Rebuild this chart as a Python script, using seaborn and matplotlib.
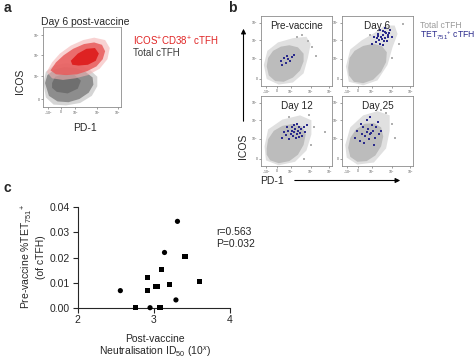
import pandas as pd
import matplotlib.pyplot as plt
import seaborn as sns

sns.set_style("ticks")
plt.rcParams['font.family'] = ['Liberation Sans', 'DejaVu Sans']
plt.rcParams['mathtext.fontset'] = 'custom'
plt.rcParams['mathtext.rm'] = 'Liberation Sans'
plt.rcParams['mathtext.it'] = 'Liberation Sans:italic'

# ---- panel c data ----
neut_circle = [2.56, 2.95, 3.14, 3.31, 3.29]
tet_circle = [0.0068, 0.0, 0.022, 0.0344, 0.0031]
neut_square = [2.76, 2.92, 2.92, 3.02, 3.05, 3.08, 3.10, 3.21, 3.41, 3.60]
tet_square = [0.0, 0.0119, 0.0070, 0.0086, 0.0086, 0.0, 0.0151, 0.0092, 0.0203, 0.0104]

# ---- flow plot ticks (axis units 0-100) ----
flow_xticks = [7, 23, 42, 70, 96]
flow_xlabels = ['-10$^3$', '0', '10$^3$', '10$^4$', '10$^5$']
flow_yticks = [10, 39, 65, 90]
flow_ylabels = ['0', '10$^3$', '10$^4$', '10$^5$']

# ---- panel a: cloud outlines (PD-1, ICOS in axis units) ----
a_gray_halo = [(1, 30), (4, 44), (14, 52), (30, 55), (46, 53), (60, 47), (70, 38), (70, 26),
               (63, 14), (48, 5), (30, 2), (14, 3), (4, 12)]
a_gray_main = [(3, 30), (6, 40), (15, 47), (28, 50), (42, 49), (55, 44), (64, 37), (65, 28),
               (59, 18), (47, 10), (33, 6), (19, 7), (8, 14)]
a_gray_core = [(12, 30), (16, 38), (28, 42), (41, 40), (49, 33), (45, 23), (32, 17), (18, 19), (12, 24)]
a_red_halo = [(5, 44), (12, 56), (22, 67), (36, 77), (52, 84), (66, 87), (80, 84), (86, 74),
              (83, 60), (73, 48), (58, 40), (42, 36), (26, 34), (12, 36)]
a_red_main = [(10, 46), (17, 56), (27, 65), (39, 73), (53, 79), (66, 81), (76, 78), (80, 70),
              (77, 60), (69, 51), (57, 45), (44, 41), (30, 40), (17, 41)]
a_red_core = [(36, 58), (45, 67), (56, 73), (67, 74), (72, 67), (68, 58), (58, 53), (46, 52), (38, 53)]

# ---- panel b: total cTFH clouds ----
b_titles = ['Pre-vaccine', 'Day 6', 'Day 12', 'Day 25']
b_halo = [
    [(4, 30), (9, 50), (24, 62), (45, 68), (64, 70), (70, 60), (66, 40), (60, 18), (45, 5), (25, 2), (8, 10)],
    [(6, 28), (12, 52), (28, 65), (45, 75), (60, 86), (74, 86), (78, 74), (71, 55), (64, 30), (50, 8), (30, 1), (10, 6)],
    [(5, 28), (10, 52), (30, 66), (55, 72), (71, 65), (71, 45), (64, 22), (48, 6), (25, 1), (7, 8)],
    [(5, 30), (12, 55), (30, 72), (50, 78), (67, 72), (67, 50), (62, 25), (45, 5), (22, 2), (7, 12)],
]
b_main = [
    [(8, 28), (10, 40), (17, 50), (28, 56), (40, 58), (52, 55), (60, 46), (60, 35), (55, 22), (45, 12), (32, 6), (20, 7), (11, 15)],
    [(9, 26), (11, 40), (18, 50), (30, 57), (44, 60), (56, 57), (63, 48), (62, 34), (55, 20), (44, 9), (30, 4), (17, 6), (10, 15)],
    [(8, 25), (10, 38), (18, 50), (30, 57), (45, 60), (58, 56), (63, 45), (60, 30), (52, 16), (40, 7), (25, 4), (13, 8), (8, 16)],
    [(9, 26), (12, 40), (20, 52), (32, 60), (45, 61), (55, 55), (58, 42), (55, 28), (47, 15), (35, 7), (22, 6), (12, 13)],
]
b_outliers = [
    [(66, 64), (72, 55), (58, 72), (78, 42), (50, 70)],
    [(80, 60), (70, 40), (85, 88), (40, 72)],
    [(75, 55), (70, 30), (40, 70), (90, 48), (68, 72), (60, 10)],
    [(70, 60), (62, 75), (75, 40), (55, 80)],
]
# ---- panel b: TET751+ cTFH events ----
b_tet = [
    [(28, 35), (32, 40), (35, 33), (38, 38), (41, 36), (44, 41), (30, 30), (47, 44), (36, 42)],
    [(48, 62), (52, 66), (55, 70), (58, 73), (60, 68), (62, 75), (65, 72), (57, 78), (50, 74), (54, 60),
     (63, 64), (67, 80), (45, 70), (59, 64), (61, 82), (53, 79), (56, 67), (64, 69), (49, 68), (66, 76),
     (58, 58), (42, 60), (70, 70), (51, 71), (60, 77)],
    [(30, 40), (35, 44), (38, 50), (42, 46), (45, 42), (47, 48), (50, 45), (52, 50), (48, 53), (44, 55),
     (55, 47), (57, 52), (53, 41), (40, 38), (46, 58), (60, 55), (62, 48), (50, 60), (36, 55), (58, 43),
     (43, 50), (49, 40), (54, 56), (65, 58), (33, 48)],
    [(18, 40), (22, 50), (25, 35), (28, 45), (30, 55), (33, 42), (35, 48), (37, 52), (38, 38), (40, 45),
     (42, 58), (44, 50), (46, 40), (48, 55), (50, 62), (35, 65), (27, 60), (52, 45), (55, 50), (39, 70),
     (31, 33), (45, 30), (41, 47)],
]

W, H = 474, 359
fig = plt.figure(figsize=(4.74, 3.59), dpi=100)


def px_axes(l, t, r, b):
    return fig.add_axes([l / W, 1 - b / H, (r - l) / W, (b - t) / H])


def style_flow(ax):
    ax.set_xlim(0, 100)
    ax.set_ylim(0, 100)
    ax.set_xticks(flow_xticks)
    ax.set_xticklabels(flow_xlabels)
    ax.set_yticks(flow_yticks)
    ax.set_yticklabels(flow_ylabels)
    ax.tick_params(length=1.5, width=0.4, pad=0.5, labelsize=2.5, colors='#555555')
    for s in ax.spines.values():
        s.set_color('#8c8c8c')
        s.set_linewidth(0.6)


def fill_poly(ax, pts, color, alpha=1.0):
    xs, ys = zip(*pts)
    ax.fill(xs, ys, facecolor=color, edgecolor='none', alpha=alpha, linewidth=0)


# panel a
ax_a = px_axes(42.7, 27.3, 120.7, 107)
style_flow(ax_a)
fill_poly(ax_a, a_gray_halo, '#c4c4c4', 0.7)
fill_poly(ax_a, a_gray_main, '#858585', 0.9)
fill_poly(ax_a, a_gray_core, '#686868', 0.8)
fill_poly(ax_a, a_red_halo, '#f4b4b4', 0.6)
fill_poly(ax_a, a_red_main, '#e85a5a', 0.85)
fill_poly(ax_a, a_red_core, '#dd1a1a', 0.9)

# panel b
b_boxes = [(261, 15.7, 332, 86), (341.7, 15.7, 413.3, 86),
           (261, 95.7, 332, 166), (341.7, 95.7, 413.3, 166)]
for i, box in enumerate(b_boxes):
    ax = px_axes(*box)
    style_flow(ax)
    fill_poly(ax, b_halo[i], '#e0e0e0', 1.0)
    fill_poly(ax, b_main[i], '#bcbcbc', 1.0)
    od = pd.DataFrame(b_outliers[i], columns=['pd1', 'icos'])
    sns.scatterplot(data=od, x='pd1', y='icos', ax=ax, color='#b0b0b0', s=1.5,
                    linewidth=0, marker='s', legend=False)
    td = pd.DataFrame(b_tet[i], columns=['pd1', 'icos'])
    sns.scatterplot(data=td, x='pd1', y='icos', ax=ax, color='#2a2a8c', s=2.5,
                    linewidth=0, marker='s', legend=False)
    ax.set_xlabel('')
    ax.set_ylabel('')
    ax.text(0.5, 0.86, b_titles[i], transform=ax.transAxes, ha='center', va='center', fontsize=7.2)

# panel c
df_c = pd.DataFrame({
    'neut': neut_circle + neut_square,
    'tet': tet_circle + tet_square,
    'group': ['circle'] * len(neut_circle) + ['square'] * len(neut_square),
})
ax_c = px_axes(77.7, 207.3, 230, 307.7)
sns.scatterplot(data=df_c, x='neut', y='tet', style='group', markers={'circle': 'o', 'square': 's'},
                color='black', s=14, linewidth=0, legend=False, ax=ax_c, clip_on=False, zorder=3)
ax_c.set_xlim(2, 4)
ax_c.set_ylim(0, 0.04)
ax_c.set_xticks([2, 3, 4])
ax_c.set_yticks([0, 0.01, 0.02, 0.03, 0.04])
ax_c.set_yticklabels(['0.00', '0.01', '0.02', '0.03', '0.04'])
ax_c.set_xlabel('')
ax_c.set_ylabel('')
ax_c.tick_params(length=3.5, width=0.8, labelsize=7.5, pad=2)
sns.despine(ax=ax_c)
for s in ['left', 'bottom']:
    ax_c.spines[s].set_linewidth(0.8)

# overlay for labels and arrows (pixel coordinates)
ov = fig.add_axes([0, 0, 1, 1])
ov.set_xlim(0, W)
ov.set_ylim(H, 0)
ov.axis('off')
ov.patch.set_alpha(0)

ov.text(4, 8, 'a', fontsize=10, fontweight='bold', va='center', ha='left')
ov.text(228, 8, 'b', fontsize=10, fontweight='bold', va='center', ha='left')
ov.text(4, 188, 'c', fontsize=10, fontweight='bold', va='center', ha='left')

ov.text(85, 22, 'Day 6 post-vaccine', fontsize=7.5, ha='center', va='center')
ov.text(133, 41, 'ICOS$^{+}$CD38$^{+}$ cTFH', fontsize=7, color='#e02424', ha='left', va='center')
ov.text(133, 52.5, 'Total cTFH', fontsize=7, color='#3c3c3c', ha='left', va='center')
ov.text(20.5, 81, 'ICOS', fontsize=7.5, rotation=90, ha='center', va='center')
ov.text(85, 128, 'PD-1', fontsize=7.5, ha='center', va='center')

ov.text(420, 25, 'Total cTFH', fontsize=6.2, color='#9a9a9a', ha='left', va='center')
ov.text(420, 35, 'TET$_{751}$$^{+}$ cTFH', fontsize=6.2, color='#2a2a8c', ha='left', va='center')
ov.annotate('', xy=(243.5, 26), xytext=(243.5, 124),
            arrowprops=dict(arrowstyle='-|>', color='black', lw=0.8, mutation_scale=7))
ov.text(243.5, 146, 'ICOS', fontsize=7.5, rotation=90, ha='center', va='center')
ov.annotate('', xy=(403, 180.5), xytext=(292, 180.5),
            arrowprops=dict(arrowstyle='-|>', color='black', lw=0.8, mutation_scale=7))
ov.text(272, 180.5, 'PD-1', fontsize=7.5, ha='center', va='center')

ov.text(33, 257, 'Pre-vaccine %TET$_{751}$$^{+}$\n(of cTFH)', fontsize=7.5, rotation=90,
        ha='center', va='center', multialignment='center', linespacing=1.1)
ov.text(155, 346.5, 'Post-vaccine\nNeutralisation ID$_{50}$ (10$^{x}$)', fontsize=7.5,
        ha='center', va='center', multialignment='center', linespacing=1.1)
ov.text(216.5, 232, 'r=0.563', fontsize=7.5, ha='left', va='center')
ov.text(216.5, 244, 'P=0.032', fontsize=7.5, ha='left', va='center')

fig.savefig('out.png', dpi=100)
